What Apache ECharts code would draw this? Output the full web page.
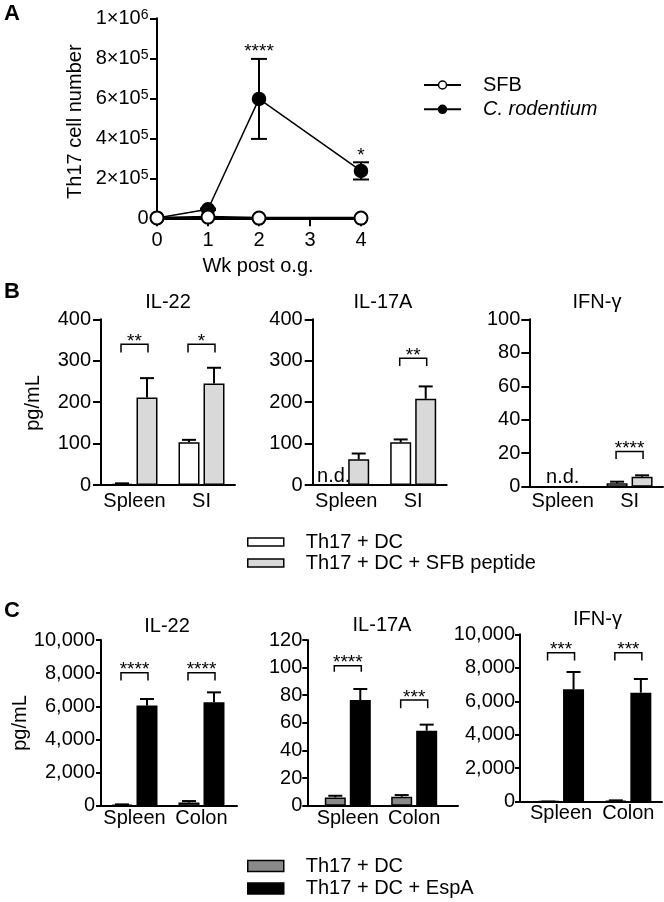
<!DOCTYPE html>
<html><head><meta charset="utf-8">
<script src="https://cdn.jsdelivr.net/npm/echarts@6/dist/echarts.min.js"></script>
<style>html,body{margin:0;padding:0;background:#fff}#c{width:664px;height:902px}</style>
</head><body><div id="c"></div>
<script>
// ================= DATA =================
// Panel A
const weeksA = [0, 1, 2, 4];
const sfbMean = [2000, 6000, 1000, 1000];
const crodMean = [2000, 45000, 597000, 237000];
const crodSem = [0, 4000, 200000, 43000];
const starsAWeeks = [2, 4];
const starsALevel = [800000, 280000];
const starsAText = ['****', '*'];
const nameSFB = 'SFB';
const nameCrod = 'C. rodentium';

// Panel B
const catsB = ['Spleen', 'SI'];
const nameB1 = 'Th17 + DC';
const nameB2 = 'Th17 + DC + SFB peptide';
const bIL22Dc = [3, 103],   bIL22DcSem = [1, 6];
const bIL22Pep = [211, 245], bIL22PepSem = [47, 38];
const bIL17Dc = [null, 103], bIL17DcSem = [0, 7];
const bIL17Pep = [62, 208],  bIL17PepSem = [14, 30];
const bIFNDc = [null, 2],    bIFNDcSem = [0, 1];
const bIFNPep = [null, 6],   bIFNPepSem = [0, 0.8];
// [category, bracket level, tip level, stars]
const bIL22Br = [[0, 340, 320, '**'], [1, 340, 320, '*']];
const bIL17Br = [[1, 306, 287, '**']];
const bIFNBr = [[1, 21, 16.5, '****']];
// n.d. : [category, side]
const bIL17Nd = [[0, -1]];
const bIFNNd = [[0, 0]];

// Panel C
const catsC = ['Spleen', 'Colon'];
const nameC1 = 'Th17 + DC ';
const nameC2 = 'Th17 + DC + EspA';
const cIL22Dc = [50, 190],     cIL22DcSem = [30, 90];
const cIL22Esp = [6040, 6240], cIL22EspSem = [400, 600];
const cIL17Dc = [6.0, 6.5],    cIL17DcSem = [1.2, 1.2];
const cIL17Esp = [76.5, 54.3], cIL17EspSem = [8, 4.4];
const cIFNDc = [10, 50],       cIFNDcSem = [0, 30];
const cIFNEsp = [6713, 6514],  cIFNEspSem = [1036, 817];
const cIL22Br = [[0, 8030, 7550, '****'], [1, 8030, 7550, '****']];
const cIL17Br = [[0, 101.4, 97, '****'], [1, 76.5, 70.5, '***']];
const cIFNBr = [[0, 8900, 8430, '***'], [1, 8900, 8430, '***']];

// ================= STYLE / LAYOUT =================
const FONT = '"Liberation Sans", Arial, Helvetica, sans-serif';
const BAR_W = 21, GAP_PX = 4, OFF = (BAR_W + GAP_PX) / 2, CAP = 7, BR_HALF = 13.5;
const colWhite = '#ffffff', colLight = '#d9d9d9', colMid = '#8a8a8a', colBlack = '#000000';

const panels = [
  {title:'IL-22', cats:catsB, yMax:400, yStep:100, n1:nameB1, n2:nameB2, c1:colWhite, c2:colLight,
   s1:bIL22Dc, e1:bIL22DcSem, s2:bIL22Pep, e2:bIL22PepSem, br:bIL22Br, nd:[]},
  {title:'IL-17A', cats:catsB, yMax:400, yStep:100, n1:nameB1, n2:nameB2, c1:colWhite, c2:colLight,
   s1:bIL17Dc, e1:bIL17DcSem, s2:bIL17Pep, e2:bIL17PepSem, br:bIL17Br, nd:bIL17Nd},
  {title:'IFN-γ', cats:catsB, yMax:100, yStep:20, n1:nameB1, n2:nameB2, c1:colWhite, c2:colLight,
   s1:bIFNDc, e1:bIFNDcSem, s2:bIFNPep, e2:bIFNPepSem, br:bIFNBr, nd:bIFNNd},
  {title:'IL-22', cats:catsC, yMax:10000, yStep:2000, n1:nameC1, n2:nameC2, c1:colMid, c2:colBlack,
   s1:cIL22Dc, e1:cIL22DcSem, s2:cIL22Esp, e2:cIL22EspSem, br:cIL22Br, nd:[]},
  {title:'IL-17A', cats:catsC, yMax:120, yStep:20, n1:nameC1, n2:nameC2, c1:colMid, c2:colBlack,
   s1:cIL17Dc, e1:cIL17DcSem, s2:cIL17Esp, e2:cIL17EspSem, br:cIL17Br, nd:[]},
  {title:'IFN-γ', cats:catsC, yMax:10000, yStep:2000, n1:nameC1, n2:nameC2, c1:colMid, c2:colBlack,
   s1:cIFNDc, e1:cIFNDcSem, s2:cIFNEsp, e2:cIFNEspSem, br:cIFNBr, nd:[]}
];
const layouts = [
  {left:101,   top:319.3, width:134,   height:165.7, xMin:-0.5,  xMax:1.5,  tick:8, lm:10, cm:6, tx:168,   ty:302},
  {left:312.7, top:319.3, width:134,   height:165.7, xMin:-0.5,  xMax:1.5,  tick:8, lm:10, cm:6, tx:383,   ty:302},
  {left:529.3, top:319.3, width:133.7, height:167.4, xMin:-0.5,  xMax:1.5,  tick:8, lm:9,  cm:5, tx:597,   ty:302},
  {left:101,   top:640,   width:136,   height:165.7, xMin:-0.5,  xMax:1.53, tick:5, lm:6,  cm:3, tx:167,   ty:626},
  {left:307.3, top:640,   width:150.7, height:165.7, xMin:-0.61, xMax:1.66, tick:5, lm:5,  cm:3, tx:382,   ty:625},
  {left:520,   top:634.3, width:142,   height:167.4, xMin:-0.61, xMax:1.5,  tick:5, lm:5,  cm:2, tx:597.5, ty:619}
];

// ================= BUILD =================
const blackLine = (w) => ({show:true, onZero:false, lineStyle:{color:'#000', width:w}});
const grids = [{left:157, top:18.3, width:204, height:200}];
const xAxes = [{
  type:'value', gridIndex:0, min:0, max:4, interval:1,
  axisLine:blackLine(2), axisTick:{show:true, inside:false, length:8, lineStyle:{color:'#000', width:2}},
  axisLabel:{fontSize:20, color:'#000', margin:12, fontFamily:FONT}, splitLine:{show:false}
}];
const yAxes = [{
  type:'value', gridIndex:0, min:0, max:1000000, interval:200000,
  axisLine:blackLine(2), axisTick:{show:true, inside:false, length:7, lineStyle:{color:'#000', width:2}},
  axisLabel:{fontSize:20, color:'#000', margin:8.5, fontFamily:FONT,
    formatter:function(v){ if (v === 0) return '0'; const e = Math.floor(Math.log10(v)); const m = Math.round(v / Math.pow(10, e)); return m + '×10{s|' + e + '}'; },
    rich:{s:{fontSize:14, verticalAlign:'top', fontFamily:FONT, color:'#000'}}},
  splitLine:{show:false}
}];

const series = [];
// Panel A series
series.push({type:'line', name:nameCrod, xAxisIndex:0, yAxisIndex:0, z:3,
  data:weeksA.map((w,i)=>[w, crodMean[i]]), symbol:'circle', symbolSize:13,
  lineStyle:{color:'#000', width:1.5}, itemStyle:{color:'#000', borderColor:'#000', borderWidth:1.5}});
series.push({type:'custom', name:'errA', xAxisIndex:0, yAxisIndex:0, z:2,
  data:weeksA.map((w,i)=>[w, crodMean[i], crodSem[i]]),
  renderItem:function(params, api){
    const x = api.value(0), m = api.value(1), s = api.value(2);
    if (!s) return null;
    const pt = api.coord([x, m + s]), pb = api.coord([x, m - s]);
    const st = {stroke:'#000', lineWidth:2};
    return {type:'group', children:[
      {type:'line', shape:{x1:pt[0], y1:pt[1], x2:pb[0], y2:pb[1]}, style:st},
      {type:'line', shape:{x1:pt[0]-CAP-1, y1:pt[1], x2:pt[0]+CAP+1, y2:pt[1]}, style:st},
      {type:'line', shape:{x1:pb[0]-CAP-1, y1:pb[1], x2:pb[0]+CAP+1, y2:pb[1]}, style:st}
    ]};
  }});
series.push({type:'line', name:nameSFB, xAxisIndex:0, yAxisIndex:0, z:4,
  data:weeksA.map((w,i)=>[w, sfbMean[i]]), symbol:'circle', symbolSize:13,
  lineStyle:{color:'#000', width:2.5}, itemStyle:{color:'#fff', borderColor:'#000', borderWidth:2}});
series.push({type:'custom', name:'starsA', xAxisIndex:0, yAxisIndex:0, z:5,
  data:starsAWeeks.map((w,i)=>[w, starsALevel[i]]),
  renderItem:function(params, api){
    const p = api.coord([api.value(0), api.value(1)]);
    return {type:'text', x:p[0], y:p[1] - 6.5,
      style:{text:starsAText[params.dataIndex], fontSize:19, fontFamily:FONT, fill:'#000', align:'center', verticalAlign:'middle'}};
  }});

const graphicEls = [];
panels.forEach(function(P, k){
  const L = layouts[k], g = k + 1;
  grids.push({left:L.left, top:L.top, width:L.width, height:L.height});
  xAxes.push({type:'value', gridIndex:g, min:L.xMin, max:L.xMax,
    axisLine:blackLine(2), axisTick:{show:false}, splitLine:{show:false},
    axisLabel:{customValues:[0,1], fontSize:20, color:'#000', margin:L.cm, fontFamily:FONT,
      formatter:function(v){ return P.cats[Math.round(v)]; }}});
  yAxes.push({type:'value', gridIndex:g, min:0, max:P.yMax, interval:P.yStep,
    axisLine:blackLine(2), axisTick:{show:true, inside:false, length:L.tick, lineStyle:{color:'#000', width:2}},
    splitLine:{show:false},
    axisLabel:{fontSize:20, color:'#000', margin:L.lm, fontFamily:FONT,
      formatter:function(v){ return v.toLocaleString('en-US'); }}});
  const barGap = (GAP_PX / BAR_W * 100) + '%';
  series.push({type:'bar', name:P.n1, xAxisIndex:g, yAxisIndex:g, z:2, barWidth:BAR_W, barGap:barGap,
    data:P.cats.map((c,j)=>[j, P.s1[j]]), itemStyle:{color:P.c1, borderColor:'#000', borderWidth:1.5}});
  series.push({type:'bar', name:P.n2, xAxisIndex:g, yAxisIndex:g, z:2, barWidth:BAR_W, barGap:barGap,
    data:P.cats.map((c,j)=>[j, P.s2[j]]), itemStyle:{color:P.c2, borderColor:'#000', borderWidth:1.5}});
  const errData = [];
  P.cats.forEach(function(c,j){
    if (P.s1[j] != null) errData.push([j, P.s1[j], P.e1[j], -1]);
    if (P.s2[j] != null) errData.push([j, P.s2[j], P.e2[j], 1]);
  });
  series.push({type:'custom', name:'err'+k, xAxisIndex:g, yAxisIndex:g, z:3, data:errData,
    renderItem:function(params, api){
      const c = api.value(0), m = api.value(1), s = api.value(2), side = api.value(3);
      const p0 = api.coord([c, m]), p1 = api.coord([c, m + s]);
      const x = p0[0] + side * OFF;
      const st = {stroke:'#000', lineWidth:2};
      return {type:'group', children:[
        {type:'line', shape:{x1:x, y1:p0[1], x2:x, y2:p1[1]}, style:st},
        {type:'line', shape:{x1:x-CAP, y1:p1[1], x2:x+CAP, y2:p1[1]}, style:st}
      ]};
    }});
  series.push({type:'custom', name:'br'+k, xAxisIndex:g, yAxisIndex:g, z:3,
    data:P.br.map(b=>[b[0], b[1], b[2]]),
    renderItem:function(params, api){
      const c = api.value(0);
      const pl = api.coord([c, api.value(1)]), pt = api.coord([c, api.value(2)]);
      const xl = pl[0] - BR_HALF, xr = pl[0] + BR_HALF;
      return {type:'group', children:[
        {type:'polyline', shape:{points:[[xl, pt[1]], [xl, pl[1]], [xr, pl[1]], [xr, pt[1]]]},
          style:{stroke:'#000', lineWidth:1.5, fill:null}},
        {type:'text', x:pl[0], y:pl[1] - 2.5,
          style:{text:P.br[params.dataIndex][3], fontSize:19, fontFamily:FONT, fill:'#000', align:'center', verticalAlign:'middle'}}
      ]};
    }});
  if (P.nd.length) {
    series.push({type:'custom', name:'nd'+k, xAxisIndex:g, yAxisIndex:g, z:3,
      data:P.nd.map(d=>[d[0], 0, d[1]]),
      renderItem:function(params, api){
        const p = api.coord([api.value(0), api.value(1)]);
        return {type:'text', x:p[0] + api.value(2) * OFF, y:p[1] - 9,
          style:{text:'n.d.', fontSize:20, fontFamily:FONT, fill:'#000', align:'center', verticalAlign:'middle'}};
      }});
  }
  graphicEls.push({type:'text', x:L.tx, y:L.ty,
    style:{text:P.title, fontSize:20, fontFamily:FONT, fill:'#000', align:'center', verticalAlign:'middle'}});
});

// Panel letters and axis names
const letters = [['A', 12, 14], ['B', 12, 292], ['C', 12, 611]];
letters.forEach(function(l){
  graphicEls.push({type:'text', x:l[1], y:l[2],
    style:{text:l[0], fontSize:22, fontWeight:'bold', fontFamily:FONT, fill:'#000', align:'center', verticalAlign:'middle'}});
});
graphicEls.push({type:'text', x:75, y:121.7, rotation:Math.PI/2,
  style:{text:'Th17 cell number', fontSize:20, fontFamily:FONT, fill:'#000', align:'center', verticalAlign:'middle'}});
graphicEls.push({type:'text', x:258, y:266,
  style:{text:'Wk post o.g.', fontSize:20, fontFamily:FONT, fill:'#000', align:'center', verticalAlign:'middle'}});
graphicEls.push({type:'text', x:33, y:403, rotation:Math.PI/2,
  style:{text:'pg/mL', fontSize:20, fontFamily:FONT, fill:'#000', align:'center', verticalAlign:'middle'}});
graphicEls.push({type:'text', x:20, y:723, rotation:Math.PI/2,
  style:{text:'pg/mL', fontSize:20, fontFamily:FONT, fill:'#000', align:'center', verticalAlign:'middle'}});

const legText = {fontSize:20, color:'#000', fontFamily:FONT, lineHeight:20, padding:[0,0,0,17]};
const legends = [
  {orient:'vertical', left:423, top:75, itemWidth:37, itemHeight:10, itemGap:4.3, selectedMode:false,
   padding:0, textStyle:legText, itemStyle:{borderColor:'#000', borderWidth:1.5},
   data:[nameSFB, {name:nameCrod, textStyle:{fontStyle:'italic'}}]},
  {orient:'vertical', left:247, top:532, itemWidth:36, itemHeight:8, itemGap:1, selectedMode:false,
   padding:0, icon:'rect', textStyle:legText, itemStyle:{borderColor:'#000', borderWidth:1.5},
   data:[nameB1, nameB2]},
  {orient:'vertical', left:247, top:856, itemWidth:36, itemHeight:11, itemGap:2.5, selectedMode:false,
   padding:0, icon:'rect', textStyle:legText, itemStyle:{borderColor:'#000', borderWidth:1.5},
   data:[nameC1, nameC2]}
];

const chart = echarts.init(document.getElementById('c'), null, {renderer:'canvas'});
chart.setOption({
  animation:false,
  backgroundColor:'#fff',
  textStyle:{fontFamily:FONT},
  grid:grids.map(g=>Object.assign({outerBoundsMode:'none', containLabel:false}, g)),
  xAxis:xAxes, yAxis:yAxes, legend:legends,
  graphic:{elements:graphicEls},
  series:series
});
</script></body></html>
